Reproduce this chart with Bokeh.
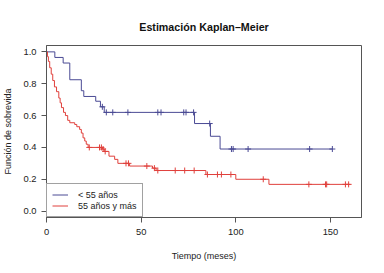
import numpy as np
from bokeh.plotting import figure
from bokeh.models import Range1d, Legend, LegendItem, FixedTicker, PrintfTickFormatter, Title
from bokeh.embed import file_html
from bokeh.resources import INLINE

# Group < 55 years
blue_t = [4.4, 8.8, 12.3, 18.4, 19.7, 26.0, 28.5, 30.5, 78.2, 86.6, 91.7]
blue_s = [0.965, 0.93, 0.825, 0.756, 0.72, 0.69, 0.655, 0.62, 0.55, 0.47, 0.39]
blue_cens = [29.5, 31.6, 35.0, 43.0, 58.8, 60.5, 72.5, 73.7, 77.7, 86.2, 97.7, 98.6, 106.5, 139.0, 151.0]
blue_end = 151.0

# Group 55 years and older
red_t = [0.5, 1.0, 1.7, 2.5, 3.3, 4.2, 5.3, 6.5, 7.2, 7.9, 9.0, 10.0, 11.2, 12.3, 14.9, 16.0, 17.5,
         18.4, 19.3, 20.2, 21.0, 22.0, 29.5, 30.5, 33.0, 36.0, 37.7, 43.9, 56.0, 57.9, 84.2, 100.0, 117.5]
red_s = [0.97, 0.94, 0.90, 0.86, 0.82, 0.78, 0.75, 0.71, 0.68, 0.65, 0.62, 0.60, 0.57, 0.555, 0.544, 0.53, 0.513,
         0.49, 0.46, 0.44, 0.42, 0.40, 0.39, 0.375, 0.345, 0.325, 0.30, 0.283, 0.27, 0.255, 0.23, 0.20, 0.168]
red_cens = [22.6, 28.0, 29.0, 29.9, 31.0, 42.0, 43.3, 53.0, 57.0, 58.8, 68.0, 73.0, 78.0, 85.0, 90.3, 92.4,
            97.4, 114.5, 138.6, 147.4, 148.0, 157.9, 159.6]
red_end = 160.5

x_ticks = [0, 50, 100, 150]
y_ticks = [0.0, 0.2, 0.4, 0.6, 0.8, 1.0]
title_text = "Estimación Kaplan–Meier"

BLUE = "#4a4a94"
RED = "#e0403c"
FONT = "Liberation Sans"
GRAY = "#555555"

p = figure(width=384, height=273, output_backend="svg", toolbar_location=None,
           x_range=Range1d(0, 166.4), y_range=Range1d(-0.04, 1.04),
           min_border_left=45, min_border_right=23, min_border_top=45, min_border_bottom=56)
p.title.visible = False
# spacer nearest the frame, then the real title above it
p.add_layout(Title(text=" ", text_font_size="6px", standoff=0), "above")
p.add_layout(Title(text=title_text, align="center", text_font=FONT, text_font_size="10.7px",
                   text_font_style="bold", text_color="#111111"), "above")
p.grid.visible = False
p.outline_line_color = GRAY
p.outline_line_width = 1
p.background_fill_color = "white"

for ax in (p.xaxis[0], p.yaxis[0]):
    ax.axis_line_color = GRAY
    ax.major_tick_line_color = GRAY
    ax.major_tick_out = 5
    ax.major_tick_in = 0
    ax.minor_tick_line_color = None
    ax.major_label_text_font = FONT
    ax.major_label_text_font_size = "9.4px"
    ax.major_label_text_color = "#222222"
    ax.axis_label_text_font = FONT
    ax.axis_label_text_font_size = "9px"
    ax.axis_label_text_font_style = "normal"
    ax.axis_label_text_color = "#222222"

p.xaxis.ticker = FixedTicker(ticks=x_ticks)
p.yaxis.ticker = FixedTicker(ticks=y_ticks)
p.yaxis.formatter = PrintfTickFormatter(format="%.1f")
p.yaxis.major_label_orientation = "horizontal"
p.xaxis.axis_label = "Tiempo (meses)"
p.yaxis.axis_label = "Función de sobrevida"
p.xaxis.major_label_standoff = 6
p.xaxis.axis_label_standoff = 13
p.yaxis.major_label_standoff = 5
p.yaxis.axis_label_standoff = 7


def curve(ts, ss, end):
    xs = [0.0] + list(ts) + [end]
    ys = [1.0] + list(ss) + [ss[-1]]
    return xs, ys


def at(ts, ss, cs):
    ts = np.asarray(ts)
    vals = np.concatenate([[1.0], ss])
    idx = np.searchsorted(ts, np.asarray(cs), side="right")
    return vals[idx]


bx, by = curve(blue_t, blue_s, blue_end)
rx, ry = curve(red_t, red_s, red_end)
rb = p.step(bx, by, mode="after", line_color=BLUE, line_width=1)
rr = p.step(rx, ry, mode="after", line_color=RED, line_width=1)
p.scatter(blue_cens, at(blue_t, blue_s, blue_cens), marker="cross", size=6,
          line_color=BLUE, line_width=1)
p.scatter(red_cens, at(red_t, red_s, red_cens), marker="cross", size=6,
          line_color=RED, line_width=1)

legend = Legend(items=[LegendItem(label="< 55 años", renderers=[rb]),
                       LegendItem(label="55 años y más", renderers=[rr])],
                location="bottom_left", margin=0, padding=5, spacing=0,
                glyph_width=16, glyph_height=11, label_height=11, label_standoff=10,
                label_text_font=FONT, label_text_font_size="9px", label_text_color="#222222",
                border_line_color="#444444", border_line_width=1,
                background_fill_color="white", background_fill_alpha=1)
p.add_layout(legend)

open("out.html", "w").write(file_html(p, INLINE))
